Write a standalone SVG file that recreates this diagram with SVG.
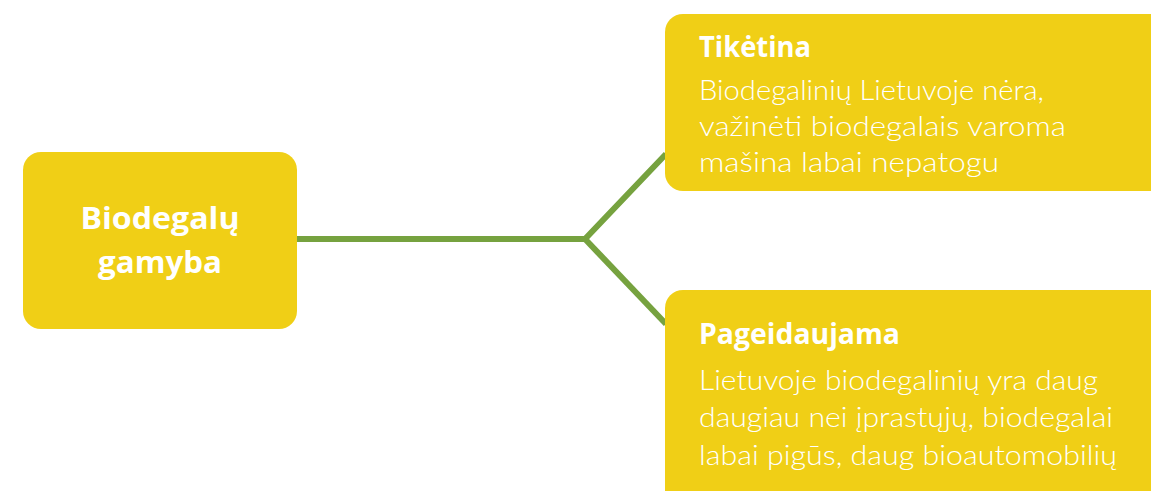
<svg xmlns="http://www.w3.org/2000/svg" width="1151" height="491" viewBox="0 0 1151 491">
<style>
.box{fill:#F0CF16}
.head{font-family:"Open Sans","Liberation Sans",sans-serif;font-weight:700;fill:#fff}
.body{font-family:Lato,"Open Sans","Liberation Sans",sans-serif;font-weight:300;fill:#fff;font-size:28px}
.conn{stroke:#76A23F;stroke-width:6;fill:none;stroke-linejoin:miter}
</style>
<rect width="1151" height="491" fill="#fff"/>
<g id="connectors">
<path class="conn" d="M297 239 H585 L666 154"/>
<path class="conn" d="M585 239 L666 324"/>
</g>
<g id="node-main">
<rect class="box" x="23" y="152" width="274" height="177" rx="18"/>
<text class="head" font-size="31" text-anchor="middle"><tspan x="160" y="229" textLength="159" lengthAdjust="spacingAndGlyphs">Biodegalų</tspan><tspan x="160" y="273" textLength="124" lengthAdjust="spacingAndGlyphs">gamyba</tspan></text>
</g>
<g id="node-tiketina">
<rect class="box" x="665" y="14" width="510" height="177" rx="18"/>
<text class="head" font-size="28" x="699" y="57" textLength="112" lengthAdjust="spacingAndGlyphs">Tikėtina</text>
<text class="body"><tspan x="699" y="100" textLength="345" lengthAdjust="spacingAndGlyphs">Biodegalinių Lietuvoje nėra,</tspan><tspan x="699" y="136" textLength="367" lengthAdjust="spacingAndGlyphs">važinėti biodegalais varoma</tspan><tspan x="699" y="172" textLength="300" lengthAdjust="spacingAndGlyphs">mašina labai nepatogu</tspan></text>
</g>
<g id="node-pageidaujama">
<rect class="box" x="665" y="290" width="510" height="230" rx="18"/>
<text class="head" font-size="28" x="699" y="344" textLength="201" lengthAdjust="spacingAndGlyphs">Pageidaujama</text>
<text class="body"><tspan x="699" y="390" textLength="399" lengthAdjust="spacingAndGlyphs">Lietuvoje biodegalinių yra daug</tspan><tspan x="699" y="427" textLength="414" lengthAdjust="spacingAndGlyphs">daugiau nei įprastųjų, biodegalai</tspan><tspan x="699" y="465" textLength="418" lengthAdjust="spacingAndGlyphs">labai pigūs, daug bioautomobilių</tspan></text>
</g>
</svg>
